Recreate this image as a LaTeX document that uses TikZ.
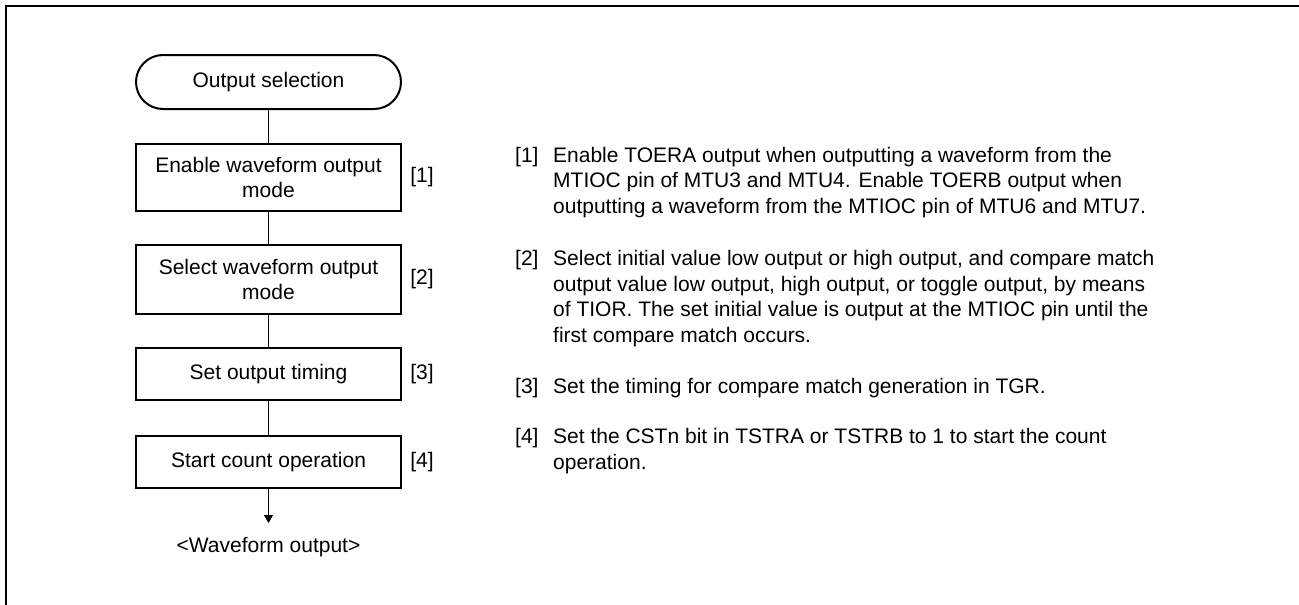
\documentclass[tikz,border=0pt]{standalone}
\usepackage{fontspec}
\setmainfont{Liberation Sans}
\usetikzlibrary{arrows.meta}
\begin{document}
\begin{tikzpicture}[x=1pt,y=-1pt,
  font=\fontsize{21}{25.5}\selectfont,
  stepbox/.style={draw, line width=2pt, minimum width=265pt, align=center, inner sep=0pt},
  term/.style={stepbox, rounded corners=27pt, minimum height=54pt},
  conn/.style={line width=1pt},
  tag/.style={anchor=center},
  desc/.style={anchor=north west, align=left, inner sep=0pt},
  frame/.style={line width=2pt}]
\useasboundingbox (0,0) rectangle (1299,605);
% outer frame
\draw[frame] (1299,5.5) -- (6,5.5) -- (6,606);
% flowchart
\node[term] (t0) at (268.5,82) {Output selection};
\node[stepbox, minimum height=67pt] (b1) at (268.5,177.5) {Enable waveform output\\mode};
\node[stepbox, minimum height=69pt] (b2) at (268.5,279.5) {Select waveform output\\mode};
\node[stepbox, minimum height=52pt] (b3) at (268.5,374) {Set output timing};
\node[stepbox, minimum height=52pt] (b4) at (268.5,462) {Start count operation};
\coordinate (end) at (268.5,523);
\node (out) at (268.5,547) {<Waveform output>};
\draw[conn] (t0) -- (b1);
\draw[conn] (b1) -- (b2);
\draw[conn] (b2) -- (b3);
\draw[conn] (b3) -- (b4);
\draw[conn, -{Triangle[length=8pt,width=9pt]}] (b4) -- (end);
% tags
\node[tag] (l1) at (422,177.5) {[1]};
\node[tag] (l2) at (422,279.5) {[2]};
\node[tag] (l3) at (422,374) {[3]};
\node[tag] (l4) at (422,462) {[4]};
% descriptions (top = baseline - strut height 17.85)
\node[desc] (n1) at (515,144.15) {\strut[1]};
\node[desc] (d1) at (553,144.15) {\strut Enable TOERA output when outputting a waveform from the\\MTIOC pin of MTU3 and MTU4. Enable TOERB output when\\outputting a waveform from the MTIOC pin of MTU6 and MTU7.};
\node[desc] (n2) at (515,247.65) {\strut[2]};
\node[desc] (d2) at (553,247.65) {\strut Select initial value low output or high output, and compare match\\output value low output, high output, or toggle output, by means\\of TIOR. The set initial value is output at the MTIOC pin until the\\first compare match occurs.};
\node[desc] (n3) at (515,375.65) {\strut[3]};
\node[desc] (d3) at (553,375.65) {\strut Set the timing for compare match generation in TGR.};
\node[desc] (n4) at (515,425.65) {\strut[4]};
\node[desc] (d4) at (553,425.65) {\strut Set the CSTn bit in TSTRA or TSTRB to 1 to start the count\\operation.};
\end{tikzpicture}
\end{document}
